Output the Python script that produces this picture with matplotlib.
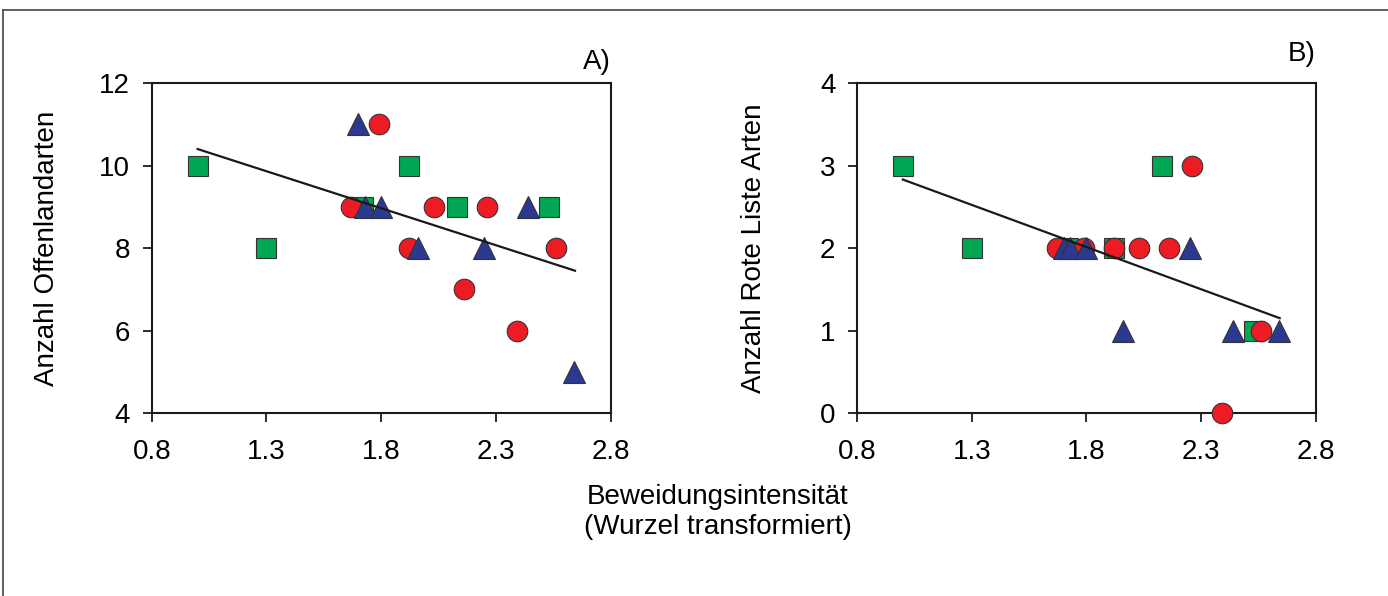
import matplotlib
matplotlib.use('Agg')
from matplotlib import pyplot as plt
from matplotlib.lines import Line2D

plt.rcParams['font.family'] = ['Liberation Sans', 'DejaVu Sans']

# x values (Beweidungsintensitaet, wurzel transformiert) per group
x_square = [1.0, 1.3, 1.72, 1.92, 2.13, 2.53]
x_circle = [1.67, 1.79, 1.92, 2.03, 2.16, 2.26, 2.39, 2.56]
x_triangle = [1.70, 1.73, 1.80, 1.96, 2.25, 2.44, 2.64]

# A) Anzahl Offenlandarten
a_square = [10, 8, 9, 10, 9, 9]
a_circle = [9, 11, 8, 9, 7, 9, 6, 8]
a_triangle = [11, 9, 9, 8, 8, 9, 5]
a_fit_x = [1.0, 2.645]
a_fit_y = [10.40, 7.45]

# B) Anzahl Rote Liste Arten
b_square = [3, 2, 2, 2, 3, 1]
b_circle = [2, 2, 2, 2, 2, 3, 0, 1]
b_triangle = [2, 2, 2, 1, 2, 1, 1]
b_fit_x = [1.0, 2.642]
b_fit_y = [2.83, 1.15]

xticks = [0.8, 1.3, 1.8, 2.3, 2.8]

green = '#00a651'
red = '#ed1c24'
blue = '#2b3990'

fig = plt.figure(figsize=(13.88, 5.96), dpi=100)

# outer frame (left and top edge visible)
fig.add_artist(Line2D([3 / 1388, 3 / 1388], [0, 1 - 10 / 596], transform=fig.transFigure,
                      color='#444444', lw=1.2))
fig.add_artist(Line2D([3 / 1388, 1], [1 - 10 / 596, 1 - 10 / 596], transform=fig.transFigure,
                      color='#444444', lw=1.2))


def panel(ax, sq, ci, tr, fit_x, fit_y, ylim, yticks, ylabel, tag, tag_y, label_x):
    ax.plot(x_square, sq, 's', ms=14.8, mfc=green, mec='#333333', mew=0.8, clip_on=False, zorder=3)
    ax.plot(x_circle, ci, 'o', ms=14.8, mfc=red, mec='#333333', mew=0.8, clip_on=False, zorder=4)
    ax.plot(x_triangle, tr, '^', ms=15.3, mfc=blue, mec='#333333', mew=0.8, clip_on=False, zorder=5)
    ax.plot(fit_x, fit_y, '-', color='#1a1a1a', lw=1.6, zorder=6)
    ax.set_xlim(0.8, 2.8)
    ax.set_ylim(*ylim)
    ax.set_xticks(xticks)
    ax.set_xticklabels([str(v) for v in xticks])
    ax.set_yticks(yticks)
    ax.tick_params(direction='out', length=6.5, width=1.3, labelsize=20, color='#1a1a1a')
    ax.tick_params(axis='x', pad=12)
    ax.tick_params(axis='y', pad=9)
    for s in ax.spines.values():
        s.set_linewidth(1.5)
        s.set_color('#1a1a1a')
    ax.set_ylabel(ylabel, fontsize=20)
    ax.yaxis.set_label_coords(label_x, 0.5)
    ax.text(1.0, tag_y, tag, transform=ax.transAxes, ha='right', va='center', fontsize=20)


ax1 = fig.add_axes([0.1093, 0.307, 0.3306, 0.5537])
ax2 = fig.add_axes([0.6174, 0.307, 0.3307, 0.5537])

panel(ax1, a_square, a_circle, a_triangle, a_fit_x, a_fit_y, (4, 12), [4, 6, 8, 10, 12],
      'Anzahl Offenlandarten', 'A)', 1.064, -0.200)
panel(ax2, b_square, b_circle, b_triangle, b_fit_x, b_fit_y, (0, 4), [0, 1, 2, 3, 4],
      'Anzahl Rote Liste Arten', 'B)', 1.088, -0.196)

fig.text(718 / 1388, 1 - 512 / 596, 'Beweidungsintensit\u00e4t\n(Wurzel transformiert)',
         ha='center', va='center', fontsize=20, linespacing=1.15)

fig.savefig('out.png', dpi=100)
